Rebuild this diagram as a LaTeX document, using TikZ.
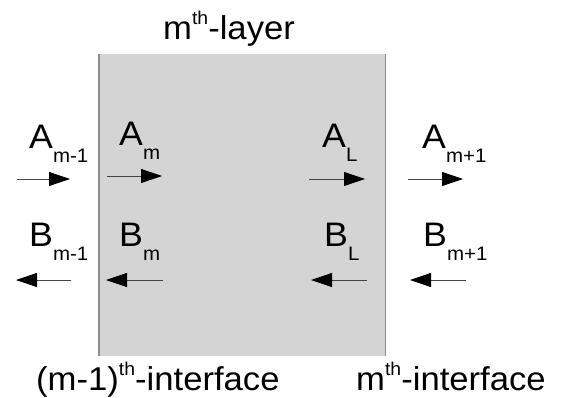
\documentclass[tikz,border=0pt]{standalone}
\usepackage{fontspec}
\setmainfont{Liberation Sans}[FakeStretch=1.05]
\usetikzlibrary{arrows.meta}
\definecolor{layergray}{HTML}{D4D4D4}
\definecolor{edgegray}{HTML}{8C8C8C}
\definecolor{shaftgray}{HTML}{444444}
\newcommand{\bigtxt}{\fontsize{33}{38}\selectfont}
\newcommand{\ampfont}{\fontsize{34}{40}\selectfont}
\newcommand{\lowidx}[1]{\raisebox{-14pt}{\fontsize{19.5}{21}\selectfont #1}}
\newcommand{\highidx}[1]{\raisebox{15pt}{\fontsize{18.5}{20}\selectfont #1}}
\begin{document}
\begin{tikzpicture}[x=1pt,y=-1pt,
  lbl/.style={anchor=base west, inner sep=0pt, font=\bigtxt},
  amp/.style={anchor=base west, inner sep=0pt, font=\ampfont},
  flow/.style={-{Triangle[length=21pt 0 0,width=14pt 0 0,color=black]},
               line width=0.8pt, draw=shaftgray}]
\useasboundingbox (0,0) rectangle (561,398);

% the m-th layer
\node[fill=layergray, draw=none, inner sep=0pt, minimum width=286pt,
      minimum height=302pt, anchor=north west] (layer) at (99,54) {};
\draw[edgegray, line width=1.3pt] (layer.north west) -- (layer.south west);
\draw[edgegray, line width=1.3pt] (layer.north east) -- (layer.south east);

% titles
\node[lbl] (title) at (163,40) {m\highidx{th}-layer};
\node[lbl] (ifl) at (36,390) {(m-1)\highidx{th}-interface};
\node[lbl] (ifr) at (356,390) {m\highidx{th}-interface};

% forward amplitudes
\node[amp] (am1) at (29,148) {A\lowidx{m-1}};
\node[amp] (am)  at (119,146) {A\lowidx{m}};
\node[amp] (aL)  at (322,147) {A\lowidx{L}};
\node[amp] (ap1) at (422,148) {A\lowidx{m+1}};

% backward amplitudes
\node[amp] (bm1) at (29,246) {B\lowidx{m-1}};
\node[amp] (bm)  at (119,246) {B\lowidx{m}};
\node[amp] (bL)  at (324,246) {B\lowidx{L}};
\node[amp] (bp1) at (423,246) {B\lowidx{m+1}};

% arrow ends
\coordinate (a1s) at (17,179);  \coordinate (a1e) at (70,179);
\coordinate (a2s) at (107,176); \coordinate (a2e) at (162,176);
\coordinate (a3s) at (309,179); \coordinate (a3e) at (365,179);
\coordinate (a4s) at (408,179); \coordinate (a4e) at (463,179);
\coordinate (b1s) at (71,280);  \coordinate (b1e) at (16,280);
\coordinate (b2s) at (163,280); \coordinate (b2e) at (106,280);
\coordinate (b3s) at (367,280); \coordinate (b3e) at (311,280);
\coordinate (b4s) at (466,280); \coordinate (b4e) at (410,280);

\foreach \s/\e in {a1s/a1e,a2s/a2e,a3s/a3e,a4s/a4e,b1s/b1e,b2s/b2e,b3s/b3e,b4s/b4e}
  \draw[flow] (\s) -- (\e);
\end{tikzpicture}
\end{document}
